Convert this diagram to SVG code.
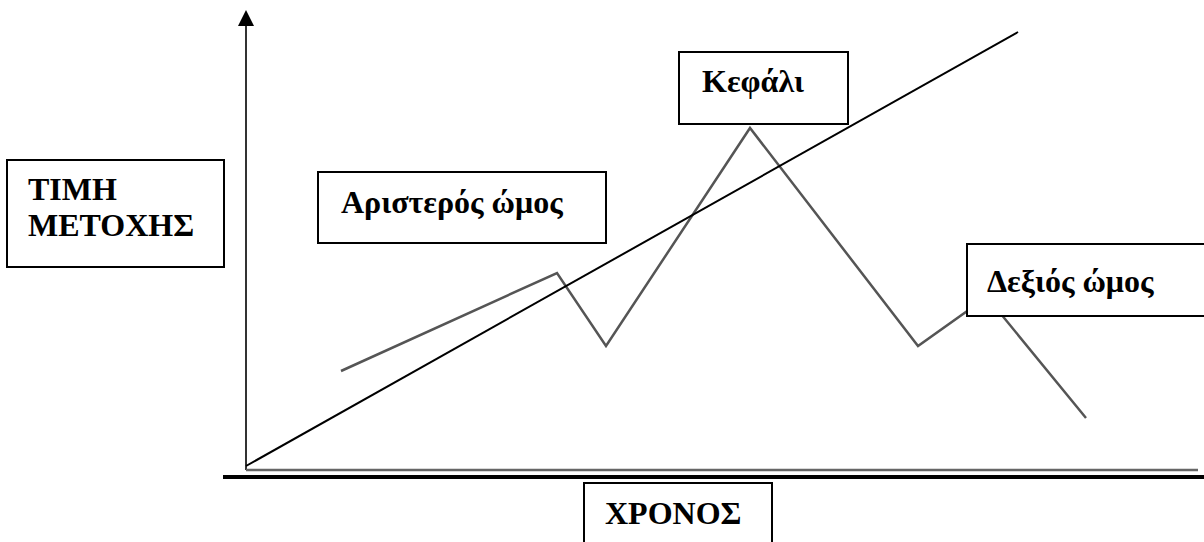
<svg xmlns="http://www.w3.org/2000/svg" width="1204" height="542" viewBox="0 0 1204 542">
<style>
.box{fill:#fff;stroke:#000;stroke-width:2}
.lbl{font-family:"Liberation Serif","Times New Roman",serif;font-weight:bold;font-size:32px;fill:#000}
</style>
<rect width="1204" height="542" fill="#fff"/>
<g id="connectors">
  <line x1="246" y1="24" x2="246" y2="470" stroke="#333" stroke-width="2"/>
  <polygon points="246,10 238,26 254,26" fill="#000"/>
  <line x1="246" y1="470" x2="1198" y2="470" stroke="#666" stroke-width="2.5"/>
  <line x1="223" y1="477" x2="1204" y2="477" stroke="#000" stroke-width="4"/>
  <polyline points="341,371 557,273 606,346 750,128 918,346 987,297 1086,418" fill="none" stroke="#555" stroke-width="2.5"/>
  <line x1="246" y1="466" x2="1018" y2="32" stroke="#000" stroke-width="2"/>
</g>
<g id="price-label">
  <rect class="box" x="7" y="160" width="217" height="107"/>
  <text class="lbl" x="28" y="200">ΤΙΜΗ</text>
  <text class="lbl" x="28" y="236">ΜΕΤΟΧΗΣ</text>
</g>
<g id="left-shoulder">
  <rect class="box" x="318" y="172" width="288" height="71"/>
  <text class="lbl" x="341" y="213">Αριστερός ώμος</text>
</g>
<g id="head">
  <rect class="box" x="679" y="52" width="169" height="72"/>
  <text class="lbl" x="702" y="92">Κεφάλι</text>
</g>
<g id="right-shoulder">
  <rect class="box" x="967" y="244" width="250" height="72"/>
  <text class="lbl" x="987" y="292">Δεξιός ώμος</text>
</g>
<g id="time-label">
  <rect class="box" x="584" y="483" width="188" height="70"/>
  <text class="lbl" x="605" y="524">ΧΡΟΝΟΣ</text>
</g>
</svg>
